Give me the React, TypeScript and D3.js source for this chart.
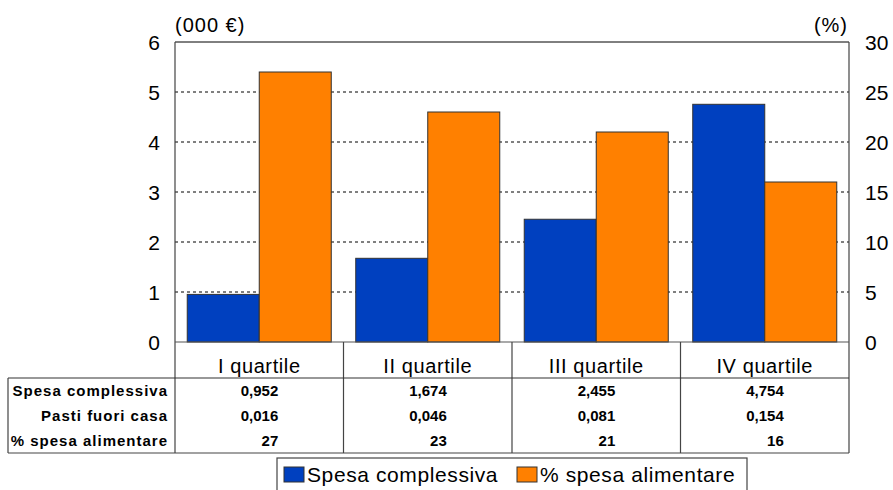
import React from "react";
import * as d3 from "d3";

const categories = ["I quartile", "II quartile", "III quartile", "IV quartile"];
const spesaComplessiva = [0.952, 1.674, 2.455, 4.754];
const spesaAlimentare = [27, 23, 21, 16];
const tableRows = [
  { label: "Spesa complessiva", values: ["0,952", "1,674", "2,455", "4,754"] },
  { label: "Pasti fuori casa", values: ["0,016", "0,046", "0,081", "0,154"] },
  { label: "% spesa alimentare", values: ["27", "23", "21", "16"] },
];
const leftTicks = [0, 1, 2, 3, 4, 5, 6];
const rightTicks = [0, 5, 10, 15, 20, 25, 30];

const BLUE = "#0040BF";
const ORANGE = "#FF8000";
const FONT = "Arial, 'Liberation Sans', sans-serif";

const App: React.FC = () => {
  const width = 893;
  const height = 490;
  const plot = { left: 175, right: 849, top: 42, bottom: 342 };
  const table = { left: 8, top: 378, bottom: 453 };

  const x = d3
    .scaleBand<string>()
    .domain(categories)
    .range([plot.left, plot.right])
    .padding(0);
  const sub = d3
    .scaleBand<string>()
    .domain(["spesa", "alim"])
    .range([0, x.bandwidth()])
    .paddingInner(0)
    .paddingOuter(0.17);
  const yL = d3.scaleLinear().domain([0, 6]).range([plot.bottom, plot.top]);
  const yR = d3.scaleLinear().domain([0, 30]).range([plot.bottom, plot.top]);

  // text baselines of the table rows
  const rowY = [396, 421, 446];

  return (
    <svg
      width={width}
      height={height}
      style={{ position: "absolute", left: 0, top: 0, background: "#fff" }}
      fontFamily={FONT}
    >
      {/* gridlines */}
      {leftTicks.slice(1, -1).map((t) => (
        <line
          key={t}
          x1={plot.left}
          x2={plot.right}
          y1={yL(t)}
          y2={yL(t)}
          stroke="#000"
          strokeDasharray="3,3"
          strokeWidth={1}
        />
      ))}

      {/* bars */}
      {categories.map((c, i) => (
        <g key={c} transform={`translate(${x(c)},0)`}>
          <rect
            x={sub("spesa")}
            y={yL(spesaComplessiva[i])}
            width={sub.bandwidth()}
            height={plot.bottom - yL(spesaComplessiva[i])}
            fill={BLUE}
            stroke="#333"
            strokeWidth={1}
          />
          <rect
            x={sub("alim")}
            y={yR(spesaAlimentare[i])}
            width={sub.bandwidth()}
            height={plot.bottom - yR(spesaAlimentare[i])}
            fill={ORANGE}
            stroke="#333"
            strokeWidth={1}
          />
        </g>
      ))}

      {/* plot frame */}
      <line x1={plot.left} x2={plot.right} y1={plot.top} y2={plot.top} stroke="#000" />
      <line x1={plot.left} x2={plot.left} y1={plot.top} y2={table.bottom} stroke="#444" strokeWidth={1.2} />
      <line x1={plot.right} x2={plot.right} y1={plot.top} y2={table.bottom} stroke="#444" strokeWidth={1.2} />
      <line x1={plot.left} x2={plot.right} y1={plot.bottom} y2={plot.bottom} stroke="#555" strokeWidth={1.2} />

      {/* axes labels */}
      {leftTicks.map((t) => (
        <text key={t} x={160} y={yL(t) + 8} fontSize={21} textAnchor="end" fill="#000">
          {t}
        </text>
      ))}
      {rightTicks.map((t) => (
        <text key={t} x={865} y={yR(t) + 8} fontSize={21} textAnchor="start" fill="#000">
          {t}
        </text>
      ))}
      <text x={175} y={32} fontSize={20} letterSpacing={1}>(000 €)</text>
      <text x={848} y={32} fontSize={20} letterSpacing={1} textAnchor="end">(%)</text>

      {/* category row */}
      {categories.map((c) => (
        <text
          key={c}
          x={(x(c) ?? 0) + x.bandwidth() / 2}
          y={373}
          fontSize={20}
          letterSpacing={0.6}
          textAnchor="middle"
        >
          {c}
        </text>
      ))}
      {categories.slice(1).map((c) => (
        <line key={c} x1={x(c)} x2={x(c)} y1={plot.bottom} y2={table.bottom} stroke="#444" strokeWidth={1.2} />
      ))}

      {/* data table */}
      <line x1={table.left} x2={plot.right} y1={table.top} y2={table.top} stroke="#333" strokeWidth={1.2} />
      <line x1={table.left} x2={plot.right} y1={table.bottom} y2={table.bottom} stroke="#444" strokeWidth={1.2} />
      <line x1={table.left} x2={table.left} y1={table.top} y2={table.bottom} stroke="#444" strokeWidth={1.2} />
      {tableRows.map((row, r) => (
        <g key={row.label}>
          <text x={168} y={rowY[r]} fontSize={15} fontWeight="bold" textAnchor="end" letterSpacing={1}>
            {row.label}
          </text>
          {row.values.map((v, i) => (
            <text
              key={i}
              x={(x(categories[i]) ?? 0) + x.bandwidth() / 2 + 19}
              y={rowY[r]}
              fontSize={15}
              fontWeight="bold"
              textAnchor="end"
            >
              {v}
            </text>
          ))}
        </g>
      ))}

      {/* legend */}
      <rect x={277} y={458} width={470} height={40} fill="#fff" stroke="#444" strokeWidth={1.2} />
      <rect x={284} y={467} width={20} height={15} fill={BLUE} stroke="#333" />
      <text x={307} y={482} fontSize={21} letterSpacing={0.6}>Spesa complessiva</text>
      <rect x={517} y={467} width={20} height={15} fill={ORANGE} stroke="#333" />
      <text x={540} y={482} fontSize={21} letterSpacing={0.6}>% spesa alimentare</text>
    </svg>
  );
};

export default App;
